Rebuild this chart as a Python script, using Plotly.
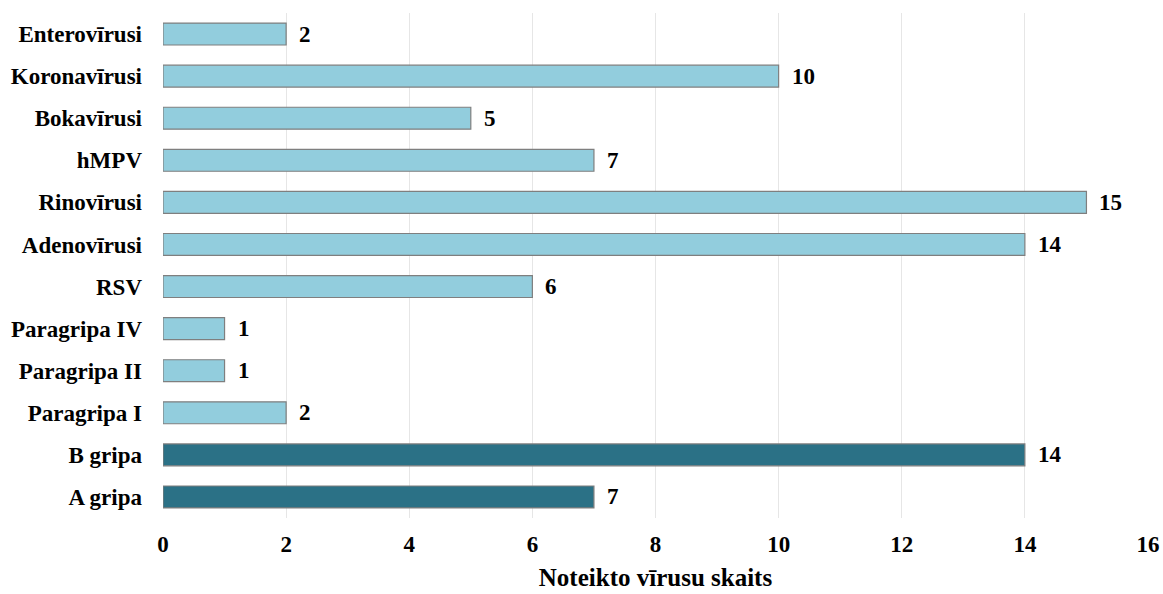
import plotly.graph_objects as go

categories = ["A gripa", "B gripa", "Paragripa I", "Paragripa II", "Paragripa IV", "RSV",
              "Adenovīrusi", "Rinovīrusi", "hMPV", "Bokavīrusi", "Koronavīrusi", "Enterovīrusi"]
values = [7, 14, 2, 1, 1, 6, 14, 15, 7, 5, 10, 2]
colors = ["#2B7186", "#2B7186"] + ["#92CDDD"] * 10
x_ticks = [0, 2, 4, 6, 8, 10, 12, 14, 16]
x_title = "Noteikto vīrusu skaits"

FONT = "'Liberation Serif', 'Times New Roman', Times, serif"

fig = go.Figure(go.Bar(
    y=categories, x=values, orientation="h",
    marker=dict(color=colors, line=dict(color="#7F7F7F", width=1.2)),
    width=0.52,
))

for c, v in zip(categories, values):
    fig.add_annotation(x=v, y=c, text=f"<b>{v}</b>", showarrow=False,
                       xanchor="left", xshift=11,
                       font=dict(family=FONT, size=23, color="black"))

fig.update_layout(
    width=1163, height=594,
    margin=dict(l=163, r=15, t=13, b=76),
    plot_bgcolor="white", paper_bgcolor="white",
    showlegend=False,
    font=dict(family=FONT, size=23, color="black"),
    xaxis=dict(range=[0, 16], tickvals=x_ticks, ticktext=[f"<b>{t}</b>" for t in x_ticks],
               showgrid=True, gridcolor="#E6E6E6", gridwidth=1, zeroline=False,
               showline=False, ticks="", ticklabelstandoff=10, automargin=False,
               title=dict(text=f"<b>{x_title}</b>", font=dict(family=FONT, size=25), standoff=12),
               tickfont=dict(family=FONT, size=23)),
    yaxis=dict(tickvals=categories, ticktext=[f"<b>{c}</b>" for c in categories],
               showgrid=False, zeroline=False, showline=False, ticks="", automargin=False,
               ticklabelstandoff=20, tickfont=dict(family=FONT, size=23),
               range=[-0.5, len(categories) - 0.5]),
)

fig.write_html("out.html", config={"displayModeBar": False},
               post_script="document.body.style.margin='0';document.body.style.overflow='hidden';")
